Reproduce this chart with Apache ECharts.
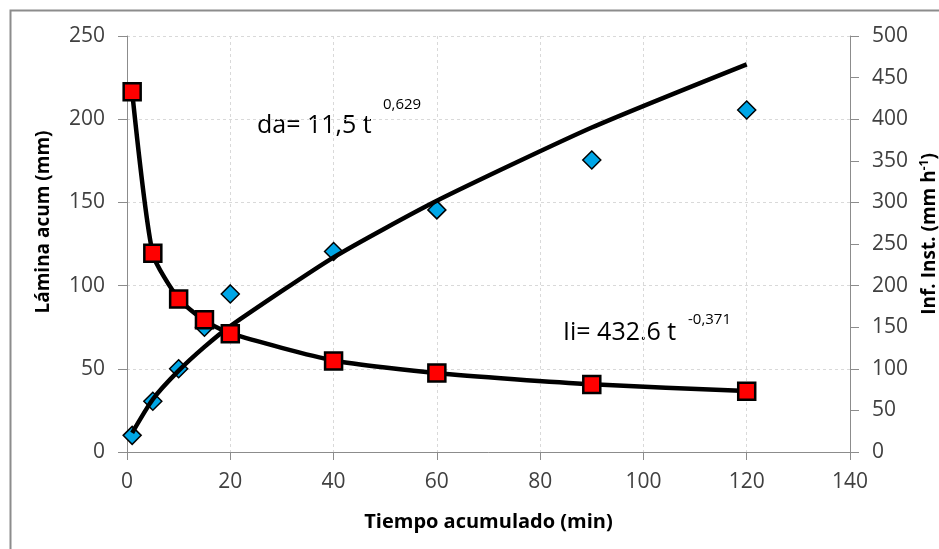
<!DOCTYPE html>
<html><head><meta charset="utf-8">
<script src="https://cdn.jsdelivr.net/npm/echarts@6/dist/echarts.min.js"></script>
<style>html,body{margin:0;padding:0;background:#fff}#c{width:939px;height:549px}</style>
</head><body><div id="c"></div>
<script>
// Time (min)
const tiempo = [1, 5, 10, 15, 20, 40, 60, 90, 120];
// Observed cumulative depth (mm) - left axis
const laminaObs = [10, 30.5, 50, 75, 95, 120.5, 145.5, 175.5, 205.5];
// Fitted cumulative depth da = 11.5 t^0.629
const laminaFit = [11.5, 31.7, 48.9, 63.2, 75.7, 117, 151, 195, 233];
// Observed instantaneous infiltration (mm/h) - right axis
const infObs = [433, 239, 184, 159, 142, 109.5, 95, 81, 73];
// Fitted Ii = 432.6 t^-0.371
const infFit = [432.6, 238, 184, 158, 142.5, 110, 94.7, 81.4, 73.2];

const xTicks = [0, 140, 20];
const leftTicks = [0, 250, 50];
const rightTicks = [0, 500, 50];

const pair = (xs, ys) => xs.map((x, i) => [x, ys[i]]);
const FONT = 'Open Sans';
const AX = '#8c8c8c';
const chart = echarts.init(document.getElementById('c'));
chart.setOption({
  animation: false,
  backgroundColor: '#fff',
  textStyle: { fontFamily: FONT },
  grid: { left: 127, right: 89, top: 36, bottom: 97, containLabel: false, outerBoundsMode: 'none' },
  xAxis: {
    type: 'value', min: xTicks[0], max: xTicks[1], interval: xTicks[2],
    name: 'Tiempo acumulado (min)', nameLocation: 'middle', nameGap: 60,
    nameTextStyle: { fontFamily: FONT, fontSize: 20, fontWeight: 'bold', color: '#000' },
    axisLine: { lineStyle: { color: AX, width: 1 } },
    axisTick: { show: true, inside: false, length: 8, lineStyle: { color: AX } },
    axisLabel: { fontFamily: FONT, fontSize: 21, color: '#404040', margin: 20 },
    splitLine: { show: true, lineStyle: { color: '#d9d9d9', type: [3, 3], width: 1 } }
  },
  yAxis: [{
    type: 'value', position: 'left', min: leftTicks[0], max: leftTicks[1], interval: leftTicks[2],
    name: 'Lámina acum (mm)', nameLocation: 'middle', nameGap: 74, nameRotate: 90,
    nameTextStyle: { fontFamily: FONT, fontSize: 19, fontWeight: 'bold', color: '#000', padding: [0, 0, 0, 44] },
    axisLine: { show: true, lineStyle: { color: AX } },
    axisTick: { show: true, length: 9, lineStyle: { color: AX } },
    axisLabel: { fontFamily: FONT, fontSize: 21, color: '#404040', margin: 22 },
    splitLine: { show: true, lineStyle: { color: '#d9d9d9', type: [3, 3], width: 1 } }
  }, {
    type: 'value', position: 'right', min: rightTicks[0], max: rightTicks[1], interval: rightTicks[2],
    name: '{a|Inf. Inst. (mm h}{s|-1}{a|)}', nameLocation: 'middle', nameGap: 58, nameRotate: 90,
    nameTextStyle: {
      padding: [0, 0, 0, 20],
      rich: {
        a: { fontFamily: FONT, fontSize: 19, fontWeight: 'bold', color: '#000' },
        s: { fontFamily: FONT, fontSize: 12, fontWeight: 'bold', color: '#000', padding: [0, 0, 10, 0] }
      }
    },
    axisLine: { show: true, lineStyle: { color: AX } },
    axisTick: { show: true, length: 9, lineStyle: { color: AX } },
    axisLabel: { fontFamily: FONT, fontSize: 21, color: '#404040', margin: 22 },
    splitLine: { show: false }
  }],
  series: [
    {
      type: 'scatter', yAxisIndex: 0, data: pair(tiempo, laminaObs), symbol: 'diamond', symbolSize: [18, 18],
      itemStyle: { color: '#00a6e6', borderColor: '#000', borderWidth: 1.5, opacity: 1 }, z: 2
    },
    {
      type: 'line', yAxisIndex: 0, data: pair(tiempo, laminaFit), showSymbol: false, smooth: 0.2,
      lineStyle: { color: '#000', width: 4.5 }, z: 3
    },
    {
      type: 'line', yAxisIndex: 1, data: pair(tiempo, infFit), showSymbol: false, smooth: 0.2,
      lineStyle: { color: '#000', width: 4.5 }, z: 3
    },
    {
      type: 'scatter', yAxisIndex: 1, data: pair(tiempo, infObs), symbol: 'rect', symbolSize: 17,
      itemStyle: { color: '#ff0000', borderColor: '#000', borderWidth: 2.5, opacity: 1 }, z: 4
    }
  ],
  graphic: [
    { type: 'rect', left: 8, top: 8, shape: { width: 940, height: 560 }, style: { fill: 'none', stroke: '#8c8c8c', lineWidth: 2 }, silent: true, z: -1 },
    { type: 'text', left: 257, top: 113, style: { text: 'da= 11,5 t', font: '25px "Open Sans"', fill: '#000' } },
    { type: 'text', left: 383, top: 97, style: { text: '0,629', font: '15px "Open Sans"', fill: '#000' } },
    { type: 'text', left: 563, top: 320, style: { text: 'Ii= 432.6 t', font: '25px "Open Sans"', fill: '#000' } },
    { type: 'text', left: 688, top: 312, style: { text: '-0,371', font: '15px "Open Sans"', fill: '#000' } }
  ]
});
</script></body></html>
